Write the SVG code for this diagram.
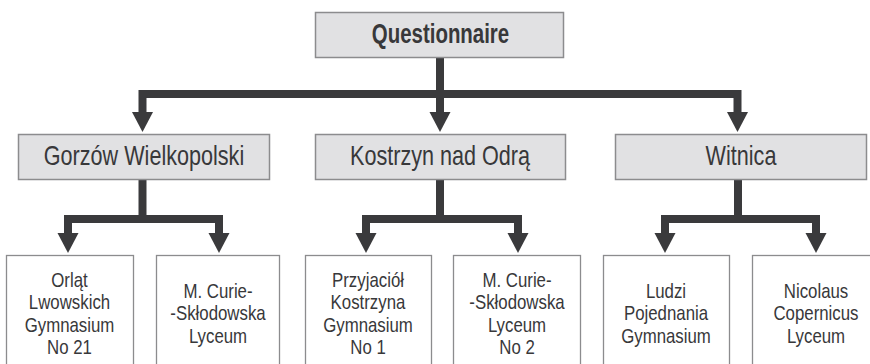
<svg xmlns="http://www.w3.org/2000/svg" width="870" height="364" viewBox="0 0 870 364">
<style>
.hdr{fill:#e1e1e3;stroke:#8c8c8e;stroke-width:1.5}
.leaf{fill:#ffffff;stroke:#8c8c8e;stroke-width:1.3}
.t{font-family:"Liberation Sans",Arial,sans-serif;fill:#38383a;text-anchor:middle}
.th{font-size:27px}
.tl{font-size:19.8px}
.tb{font-size:28px;font-weight:bold}
.ln{fill:none;stroke:#3a3a3c;stroke-width:8;stroke-linejoin:miter}
.ah{fill:#3a3a3c}
</style>
<rect width="870" height="364" fill="#ffffff"/>
<g id="connectors">
<path class="ln" d="M440,57 V94"/>
<path class="ln" d="M142.5,113 V94 H737.5 V113"/>
<path class="ln" d="M440,94 V113"/>
<polygon class="ah" points="132,112 153,112 142.5,132"/>
<polygon class="ah" points="429.5,112 450.5,112 440,132"/>
<polygon class="ah" points="727,112 748,112 737.5,132"/>
<path class="ln" d="M142.5,180 V219"/>
<path class="ln" d="M68,234 V219 H219 V234"/>
<path class="ln" d="M440,180 V219"/>
<path class="ln" d="M366,234 V219 H518 V234"/>
<path class="ln" d="M738,180 V219"/>
<path class="ln" d="M665,234 V219 H816 V234"/>
<polygon class="ah" points="57.5,233 78.5,233 68,253"/>
<polygon class="ah" points="208.5,233 229.5,233 219,253"/>
<polygon class="ah" points="355.5,233 376.5,233 366,253"/>
<polygon class="ah" points="507.5,233 528.5,233 518,253"/>
<polygon class="ah" points="654.5,233 675.5,233 665,253"/>
<polygon class="ah" points="805.5,233 826.5,233 816,253"/>
</g>
<g id="questionnaire">
<rect class="hdr" x="315.5" y="12.5" width="248" height="45"/>
<text class="t tb" transform="translate(440.5,0) scale(0.73,1)" x="0" y="43.5">Questionnaire</text>
</g>
<g id="gorzow">
<rect class="hdr" x="18.5" y="134.5" width="251" height="45"/>
<text class="t th" transform="translate(144,0) scale(0.8,1)" x="0" y="165">Gorzów Wielkopolski</text>
</g>
<g id="kostrzyn">
<rect class="hdr" x="315.5" y="134.5" width="250" height="45"/>
<text class="t th" transform="translate(440,0) scale(0.8,1)" x="0" y="165">Kostrzyn nad Odrą</text>
</g>
<g id="witnica">
<rect class="hdr" x="615.5" y="134.5" width="251" height="45"/>
<text class="t th" transform="translate(741,0) scale(0.8,1)" x="0" y="165">Witnica</text>
</g>
<g id="orlat">
<rect class="leaf" x="6.5" y="255.5" width="127" height="120"/>
<text class="t tl" transform="translate(69.5,0) scale(0.85,1)"><tspan x="0" y="287">Orląt</tspan><tspan x="0" y="309.3">Lwowskich</tspan><tspan x="0" y="331.6">Gymnasium</tspan><tspan x="0" y="354">No 21</tspan></text>
</g>
<g id="curie1">
<rect class="leaf" x="156.5" y="255.5" width="123" height="120"/>
<text class="t tl" transform="translate(218,0) scale(0.85,1)"><tspan x="0" y="298">M. Curie-</tspan><tspan x="0" y="320.3">-Skłodowska</tspan><tspan x="0" y="342.6">Lyceum</tspan></text>
</g>
<g id="przyjaciol">
<rect class="leaf" x="305.5" y="255.5" width="126" height="120"/>
<text class="t tl" transform="translate(368,0) scale(0.85,1)"><tspan x="0" y="287">Przyjaciół</tspan><tspan x="0" y="309.3">Kostrzyna</tspan><tspan x="0" y="331.6">Gymnasium</tspan><tspan x="0" y="354">No 1</tspan></text>
</g>
<g id="curie2">
<rect class="leaf" x="453.5" y="255.5" width="127" height="120"/>
<text class="t tl" transform="translate(517,0) scale(0.85,1)"><tspan x="0" y="287">M. Curie-</tspan><tspan x="0" y="309.3">-Skłodowska</tspan><tspan x="0" y="331.6">Lyceum</tspan><tspan x="0" y="354">No 2</tspan></text>
</g>
<g id="ludzi">
<rect class="leaf" x="603.5" y="255.5" width="126" height="120"/>
<text class="t tl" transform="translate(666,0) scale(0.85,1)"><tspan x="0" y="298">Ludzi</tspan><tspan x="0" y="320.3">Pojednania</tspan><tspan x="0" y="342.6">Gymnasium</tspan></text>
</g>
<g id="copernicus">
<rect class="leaf" x="752.5" y="255.5" width="130" height="120"/>
<text class="t tl" transform="translate(816,0) scale(0.85,1)"><tspan x="0" y="298">Nicolaus</tspan><tspan x="0" y="320.3">Copernicus</tspan><tspan x="0" y="342.6">Lyceum</tspan></text>
</g>
</svg>
